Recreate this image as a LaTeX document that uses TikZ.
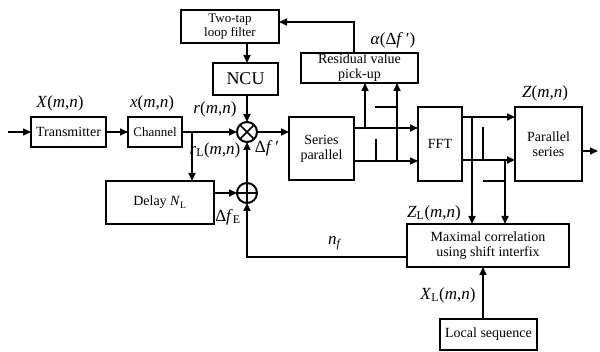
\documentclass[tikz,border=0pt]{standalone}
\usepackage{fontspec}
\setmainfont{Liberation Serif}
\usetikzlibrary{arrows.meta}
\begin{document}
\begin{tikzpicture}[x=1pt,y=-1pt,
 box/.style={draw, line width=2pt, inner sep=1pt, outer sep=0pt, align=center, font=\fontsize{14}{15}\selectfont},
 ln/.style={line width=1.6pt},
 arr/.style={line width=1.6pt, -{Triangle[length=8pt,width=7pt]}},
 lbl/.style={font=\fontsize{17}{17}\selectfont, inner sep=0pt},
 op/.style={draw, circle, line width=2pt, minimum size=20pt, inner sep=0pt, outer sep=0pt}]
\useasboundingbox[fill=white] (0,0) rectangle (600,352);
% boxes
\node[box, minimum width=98pt, minimum height=33pt, font=\fontsize{13}{14}\selectfont] (filt) at (230,26.5) {Two-tap\\loop filter};
\node[box, minimum width=65pt, minimum height=32pt, font=\fontsize{18}{18}\selectfont] (ncu) at (245.5,79) {NCU};
\node[box, minimum width=75pt, minimum height=30pt] (tx) at (68.5,132) {Transmitter};
\node[box, minimum width=54pt, minimum height=30pt, font=\fontsize{13}{14}\selectfont] (ch) at (155,132) {Channel};
\node[op] (mul) at (247,132) {};
\node[op] (sum) at (247,193) {};
\node[box, minimum width=108pt, minimum height=43pt] (del) at (160,202.5) {Delay \textit{N}\textsubscript{L}};
\node[box, minimum width=65pt, minimum height=63pt] (sp) at (321.5,148.5) {Series\\parallel};
\node[box, minimum width=117pt, minimum height=30pt] (res) at (359.5,68) {Residual value\\pick-up};
\node[box, minimum width=44pt, minimum height=74pt] (fft) at (440,144) {FFT};
\node[box, minimum width=67pt, minimum height=74pt] (ps) at (548.5,144) {Parallel\\series};
\node[box, minimum width=162pt, minimum height=43pt] (mc) at (488,245.5) {Maximal correlation\\using shift interfix};
\node[box, minimum width=97pt, minimum height=31pt] (ls) at (488.5,334.5) {Local sequence};
% operator symbols
\draw[ln] (mul.north west) -- (mul.south east) (mul.north east) -- (mul.south west);
\draw[ln] (sum.north) -- (sum.south) (sum.west) -- (sum.east);
% helper coordinates
\coordinate (in) at (8,132);
\coordinate (b1) at (192,132);
\coordinate (y128) at (0,128);
\coordinate (y161) at (0,161);
\coordinate (y117) at (0,117);
\coordinate (y160) at (0,160);
\coordinate (y22) at (0,22);
\coordinate (y257) at (0,257);
\coordinate (u1) at (365,128);
\coordinate (u2) at (397,161);
\coordinate (d1) at (472,117);
\coordinate (d2) at (505,160);
\coordinate (lx) at (483,0);
\coordinate (out) at (598,151);
% connectors
\draw[arr] (in) -- (tx);
\draw[arr] (tx) -- (ch);
\draw[arr] (ch) -- (mul);
\draw[arr] (b1) -- (b1 |- del.north);
\draw[arr] (del.east |- sum) -- (sum);
\draw[arr] (sum) -- (mul);
\draw[arr] (filt.south -| mul) -- (ncu.north -| mul);
\draw[arr] (ncu.south -| mul) -- (mul);
\draw[arr] (mc.west |- y257) -| (sum);
\draw[arr] (mul) -- (sp.west |- mul);
\draw[arr] (sp.east |- y128) -- (fft.west |- y128);
\draw[arr] (sp.east |- y161) -- (fft.west |- y161);
\draw[arr] (u1) -- (u1 |- res.south);
\draw[arr] (u2) -- (u2 |- res.south);
\draw[ln] (375,107) -- (397,107);
\draw[ln] (376,139) -- (376,161);
\draw[arr] (res.north -| sp.east) |- (filt.east |- y22);
\draw[arr] (fft.east |- y117) -- (ps.west |- y117);
\draw[arr] (fft.east |- y160) -- (ps.west |- y160);
\draw[arr] (d1) -- (d1 |- mc.north);
\draw[arr] (d2) -- (d2 |- mc.north);
\draw[ln] (483,127) -- (483,160);
\draw[ln] (483,181) -- (505,181);
\draw[arr] (ps.east |- out) -- (out);
\draw[arr] (ls.north -| lx) -- (mc.south -| lx);
% labels
\node[lbl] (lX) at (60,103) {\textit{X}(\textit{m},\textit{n})};
\node[lbl] (lx2) at (152,103) {\textit{x}(\textit{m},\textit{n})};
\node[lbl] (lr) at (215,109) {\textit{r}(\textit{m},\textit{n})};
\node[lbl] (lrL) at (215,150) {\textit{r}\textsubscript{L}(\textit{m},\textit{n})};
\node[lbl] (ldf) at (267,148) {Δ\textit{f}\,′};
\node[lbl] (ldfE) at (228,217) {Δ\textit{f}\textsubscript{E}};
\node[lbl] (lal) at (393,40) {\textit{α}(Δ\textit{f}\,′)};
\node[lbl] (lZ) at (545,93) {\textit{Z}(\textit{m},\textit{n})};
\node[lbl] (lZL) at (434,213) {\textit{Z}\textsubscript{L}(\textit{m},\textit{n})};
\node[lbl] (lnf) at (335,243) {\textit{n}\textsubscript{\textit{f}}};
\node[lbl] (lXL) at (448,295) {\textit{X}\textsubscript{L}(\textit{m},\textit{n})};
\end{tikzpicture}
\end{document}
